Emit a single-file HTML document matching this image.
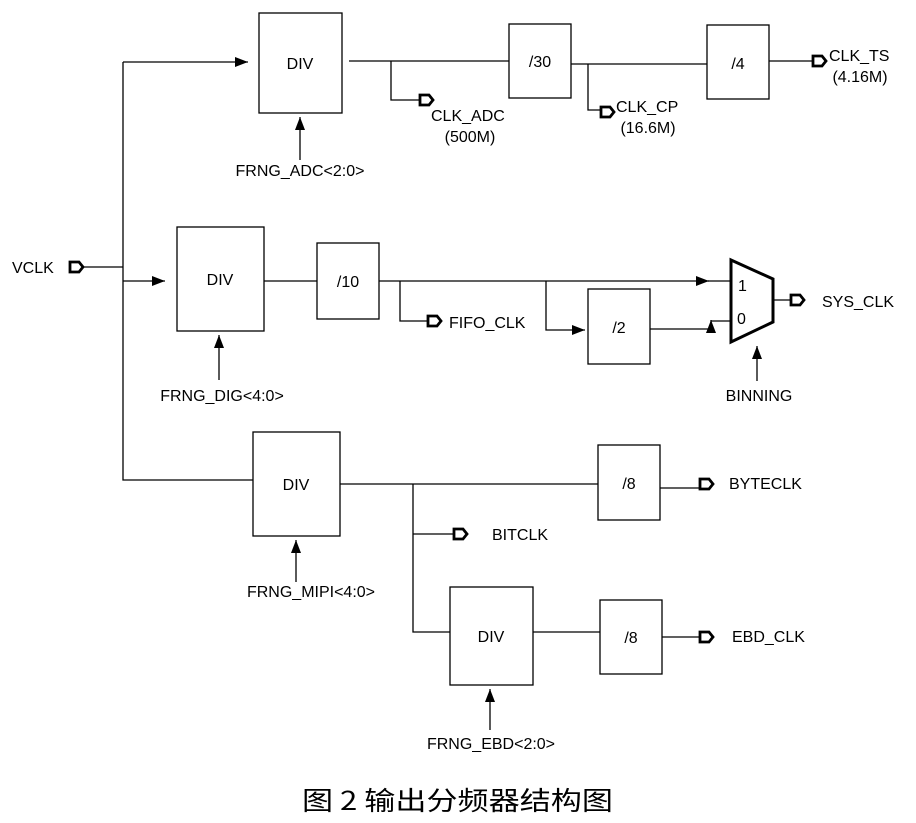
<!DOCTYPE html>
<html><head><meta charset="utf-8"><style>
html,body{margin:0;padding:0;background:#fff;}
svg{display:block;}
text{font-family:"Liberation Sans",Arial,sans-serif;font-size:16px;fill:#000;}
</style></head><body>
<svg width="916" height="823" viewBox="0 0 916 823" xmlns="http://www.w3.org/2000/svg">
<defs>
<marker id="a" markerWidth="13" markerHeight="10" refX="13" refY="5" orient="auto" markerUnits="userSpaceOnUse">
<path d="M0,0 L13,5 L0,10 Z" fill="#000"/></marker>
<g id="p"><path d="M0,-5 L9,-5 L13,0 L9,5 L0,5 Z" fill="#fff" stroke="#000" stroke-width="2.8" stroke-linejoin="miter"/></g>
</defs>
<g fill="none" stroke="#000" stroke-width="1.3">
<line x1="82" y1="267" x2="123" y2="267"/>
<polyline points="123,62 123,480 253,480"/>
<line x1="123" y1="62" x2="248" y2="62" marker-end="url(#a)"/>
<rect x="259" y="13" width="83" height="100"/>
<line x1="300" y1="160" x2="300" y2="117" marker-end="url(#a)"/>
<line x1="349" y1="61" x2="509" y2="61"/>
<polyline points="391,61 391,100 420,100"/>
<rect x="509" y="24" width="62" height="74"/>
<line x1="571" y1="64" x2="707" y2="64"/>
<polyline points="588,64 588,110 601,110"/>
<rect x="707" y="25" width="62" height="74"/>
<line x1="769" y1="61" x2="813" y2="61"/>
<line x1="123" y1="281" x2="165" y2="281" marker-end="url(#a)"/>
<rect x="177" y="227" width="87" height="104"/>
<line x1="219" y1="380" x2="219" y2="335" marker-end="url(#a)"/>
<line x1="264" y1="281" x2="317" y2="281"/>
<rect x="317" y="243" width="62" height="76"/>
<line x1="379" y1="281" x2="709" y2="281" marker-end="url(#a)"/>
<line x1="708" y1="281" x2="731" y2="281"/>
<polyline points="400,281 400,321 428,321"/>
<polyline points="546,281 546,330 585,330" marker-end="url(#a)"/>
<rect x="588" y="289" width="62" height="75"/>
<line x1="650" y1="329" x2="711" y2="329"/>
<line x1="711" y1="329" x2="711" y2="320" marker-end="url(#a)"/>
<line x1="711" y1="321" x2="731" y2="321"/>
<polygon points="731,260 773,279 773,322 731,342" stroke-width="3"/>
<line x1="773" y1="300" x2="791" y2="300"/>
<line x1="757" y1="381" x2="757" y2="346" marker-end="url(#a)"/>
<rect x="253" y="432" width="87" height="104"/>
<line x1="296" y1="582" x2="296" y2="540" marker-end="url(#a)"/>
<line x1="340" y1="484" x2="598" y2="484"/>
<polyline points="413,484 413,632 450,632"/>
<line x1="413" y1="534" x2="454" y2="534"/>
<rect x="598" y="445" width="62" height="75"/>
<line x1="660" y1="488" x2="700" y2="488"/>
<rect x="450" y="587" width="83" height="98"/>
<line x1="490" y1="730" x2="490" y2="689" marker-end="url(#a)"/>
<line x1="533" y1="632" x2="600" y2="632"/>
<rect x="600" y="600" width="62" height="74"/>
<line x1="662" y1="637" x2="700" y2="637"/>
</g>
<use href="#p" x="70" y="267"/>
<use href="#p" x="420" y="100"/>
<use href="#p" x="601" y="112"/>
<use href="#p" x="813" y="61"/>
<use href="#p" x="428" y="321"/>
<use href="#p" x="791" y="300"/>
<use href="#p" x="700" y="484"/>
<use href="#p" x="454" y="534"/>
<use href="#p" x="700" y="637"/>
<g>
<text x="12" y="273">VCLK</text>
<text x="300" y="69" text-anchor="middle">DIV</text>
<text x="540" y="67" text-anchor="middle">/30</text>
<text x="738" y="69" text-anchor="middle">/4</text>
<text x="220" y="285" text-anchor="middle">DIV</text>
<text x="348" y="287" text-anchor="middle">/10</text>
<text x="619" y="333" text-anchor="middle">/2</text>
<text x="296" y="490" text-anchor="middle">DIV</text>
<text x="629" y="489" text-anchor="middle">/8</text>
<text x="491" y="642" text-anchor="middle">DIV</text>
<text x="631" y="643" text-anchor="middle">/8</text>
<text x="300" y="176" text-anchor="middle">FRNG_ADC&lt;2:0&gt;</text>
<text x="431" y="121">CLK_ADC</text>
<text x="470" y="142" text-anchor="middle">(500M)</text>
<text x="616" y="112">CLK_CP</text>
<text x="648" y="133" text-anchor="middle">(16.6M)</text>
<text x="829" y="61">CLK_TS</text>
<text x="860" y="82" text-anchor="middle">(4.16M)</text>
<text x="449" y="328">FIFO_CLK</text>
<text x="222" y="401" text-anchor="middle">FRNG_DIG&lt;4:0&gt;</text>
<text x="738" y="291">1</text>
<text x="737" y="324">0</text>
<text x="822" y="307">SYS_CLK</text>
<text x="759" y="401" text-anchor="middle">BINNING</text>
<text x="729" y="489">BYTECLK</text>
<text x="492" y="540">BITCLK</text>
<text x="311" y="597" text-anchor="middle">FRNG_MIPI&lt;4:0&gt;</text>
<text x="732" y="642">EBD_CLK</text>
<text x="491" y="749" text-anchor="middle">FRNG_EBD&lt;2:0&gt;</text>
<text x="302" y="810" style="font-family:'Noto Sans CJK SC','WenQuanYi Zen Hei',sans-serif;font-size:26px" textLength="311" lengthAdjust="spacingAndGlyphs">图 2 输出分频器结构图</text>
</g>
</svg>
</body></html>
